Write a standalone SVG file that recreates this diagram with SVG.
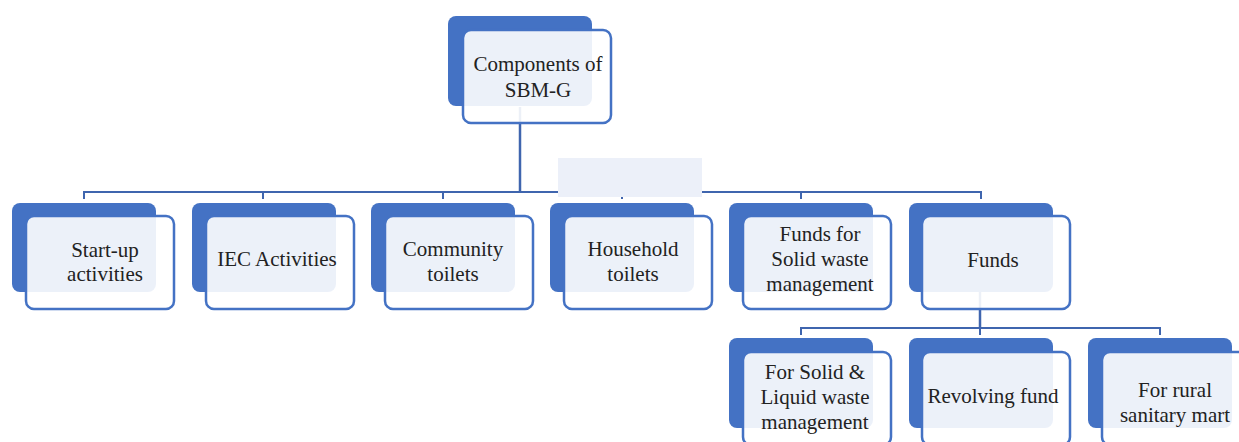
<svg xmlns="http://www.w3.org/2000/svg" width="1239" height="442" viewBox="0 0 1239 442">
<style>
.back{fill:#4472C4;}
.front{fill:#FFFFFF;fill-opacity:0.9;stroke:#4472C4;stroke-width:2.5;}
.lbl{font-family:"Liberation Serif","Times New Roman",serif;font-size:21px;fill:#222222;text-anchor:middle;}
.conn{fill:none;stroke:#3F65AE;stroke-width:2;}
</style>
<rect width="1239" height="442" fill="#FFFFFF"/>
<g id="connectors">
<path class="conn" d="M520,107 V192" style="stroke-width:2.5"/>
<path class="conn" d="M84,199 V192 H981 V199 M263,192 V199 M443,192 V199 M622,192 V199 M801,192 V199"/>
<path class="conn" d="M980,292 V328" style="stroke-width:2.5"/>
<path class="conn" d="M801,335 V328 H1160 V335 M980,328 V335"/>
</g>
<rect x="558" y="158" width="144" height="39" fill="#ECF0F9"/>
<g id="root">
<rect class="back" x="448" y="16" width="144" height="90" rx="8"/>
<rect class="front" x="463" y="30" width="148" height="93" rx="8"/>
<text class="lbl" x="538" y="71">Components of</text>
<text class="lbl" x="538" y="97">SBM-G</text>
</g>
<g id="startup">
<rect class="back" x="12" y="203" width="144" height="89" rx="8"/>
<rect class="front" x="26" y="216" width="148" height="93" rx="8"/>
<text class="lbl" x="105" y="257">Start-up</text>
<text class="lbl" x="105" y="281">activities</text>
</g>
<g id="iec">
<rect class="back" x="192" y="203" width="144" height="89" rx="8"/>
<rect class="front" x="206" y="216" width="148" height="93" rx="8"/>
<text class="lbl" x="277" y="266">IEC Activities</text>
</g>
<g id="community">
<rect class="back" x="371" y="203" width="144" height="89" rx="8"/>
<rect class="front" x="385" y="216" width="148" height="93" rx="8"/>
<text class="lbl" x="453" y="256">Community</text>
<text class="lbl" x="453" y="281">toilets</text>
</g>
<g id="household">
<rect class="back" x="550" y="203" width="144" height="89" rx="8"/>
<rect class="front" x="564" y="216" width="148" height="93" rx="8"/>
<text class="lbl" x="633" y="256">Household</text>
<text class="lbl" x="633" y="281">toilets</text>
</g>
<g id="solidwaste">
<rect class="back" x="729" y="203" width="144" height="89" rx="8"/>
<rect class="front" x="743" y="216" width="148" height="93" rx="8"/>
<text class="lbl" x="820" y="241">Funds for</text>
<text class="lbl" x="820" y="266">Solid waste</text>
<text class="lbl" x="820" y="291">management</text>
</g>
<g id="funds">
<rect class="back" x="909" y="203" width="144" height="89" rx="8"/>
<rect class="front" x="922" y="216" width="148" height="93" rx="8"/>
<text class="lbl" x="993" y="267">Funds</text>
</g>
<g id="slwm">
<rect class="back" x="729" y="338" width="144" height="90" rx="8"/>
<rect class="front" x="743" y="352" width="148" height="93" rx="8"/>
<text class="lbl" x="815" y="379">For Solid &amp;</text>
<text class="lbl" x="815" y="404">Liquid waste</text>
<text class="lbl" x="815" y="429">management</text>
</g>
<g id="revolving">
<rect class="back" x="909" y="338" width="144" height="90" rx="8"/>
<rect class="front" x="922" y="352" width="148" height="93" rx="8"/>
<text class="lbl" x="993" y="403">Revolving fund</text>
</g>
<g id="mart">
<rect class="back" x="1088" y="338" width="144" height="90" rx="8"/>
<rect class="front" x="1102" y="352" width="148" height="93" rx="8"/>
<text class="lbl" x="1175" y="397">For rural</text>
<text class="lbl" x="1175" y="422">sanitary mart</text>
</g>
</svg>
